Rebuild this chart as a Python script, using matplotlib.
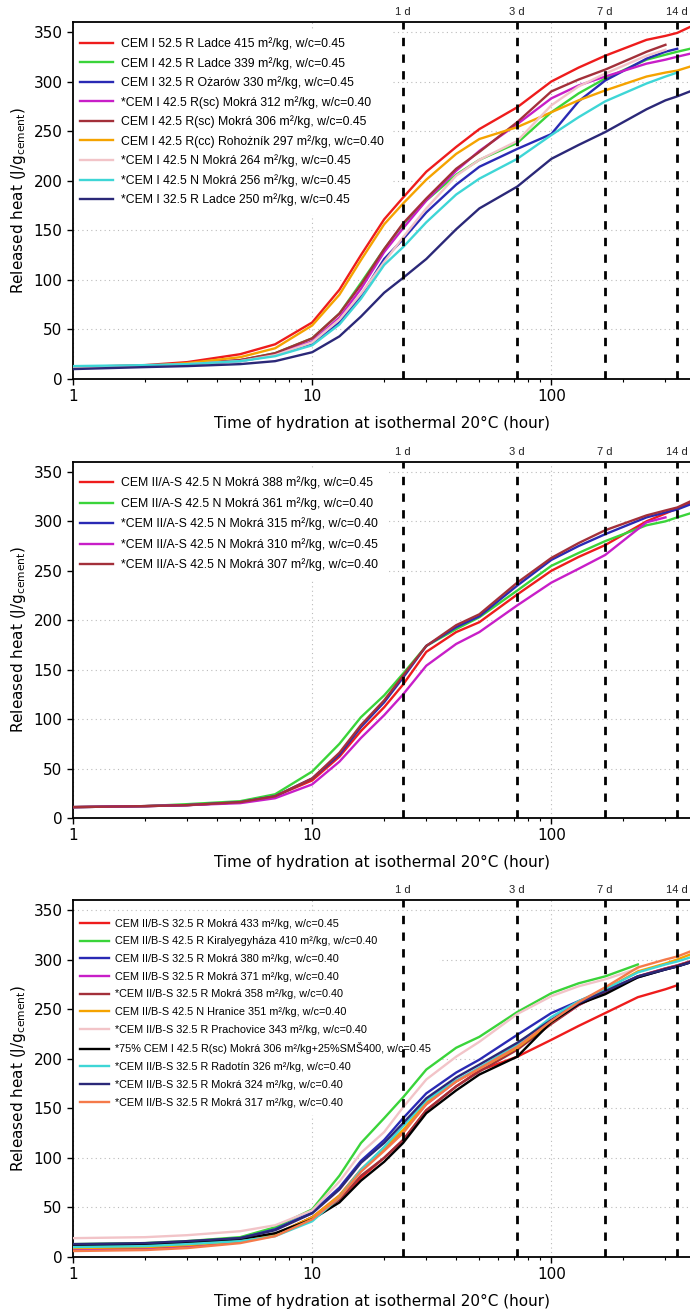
import numpy as np
import matplotlib
matplotlib.use("Agg")
import matplotlib.pyplot as plt
from matplotlib.transforms import blended_transform_factory

nan = np.nan

# ---------------- data ----------------
time_h = [1, 2, 3, 5, 7, 10, 13, 16, 20, 24, 30, 40, 50, 72, 100, 130, 168, 250, 300, 336, 380]
time_h3 = [1, 2, 3, 5, 7, 10, 13, 16, 20, 24, 30, 40, 50, 72, 100, 130, 168, 230, 300, 336, 380]

day_hours = [24, 72, 168, 336]
day_labels = ["1 d", "3 d", "7 d", "14 d"]

# Panel 1 – CEM I
p1_labels = [
    "CEM I 52.5 R Ladce 415 m²/kg, w/c=0.45",
    "CEM I 42.5 R Ladce 339 m²/kg, w/c=0.45",
    "CEM I 32.5 R Ożarów 330 m²/kg, w/c=0.45",
    "*CEM I 42.5 R(sc) Mokrá 312 m²/kg, w/c=0.40",
    "CEM I 42.5 R(sc) Mokrá 306 m²/kg, w/c=0.45",
    "CEM I 42.5 R(cc) Rohożník 297 m²/kg, w/c=0.40",
    "*CEM I 42.5 N Mokrá 264 m²/kg, w/c=0.45",
    "*CEM I 42.5 N Mokrá 256 m²/kg, w/c=0.45",
    "*CEM I 32.5 R Ladce 250 m²/kg, w/c=0.45",
]
p1_colors = ["#ee1c1c", "#3ad43a", "#2a2ab4", "#c81ec8", "#a3303a",
             "#f5a300", "#f2c4c8", "#3ed6d6", "#2b2878"]
p1_red =     [12, 14, 17, 25, 35, 57, 90, 125, 161, 183, 209, 234, 252, 274, 300, 314, 326, 342, 346, 349, 355]
p1_green =   [11, 13, 15, 19, 26, 41, 66, 97, 131, 156, 180, 206, 221, 238, 269, 288, 303, 322, 327, 330, 333]
p1_blue =    [12, 13, 15, 18, 24, 35, 57, 84, 121, 141, 168, 196, 214, 232, 247, 280, 301, 323, 330, 333, nan]
p1_magenta = [11, 13, 15, 19, 25, 38, 62, 91, 128, 152, 180, 210, 230, 257, 283, 296, 305, 318, 322, 325, 328]
p1_brown =   [11, 13, 15, 19, 26, 41, 66, 95, 131, 157, 182, 212, 229, 259, 290, 302, 312, 330, 337, nan, nan]
p1_orange =  [11, 13, 16, 22, 31, 54, 85, 120, 156, 177, 201, 227, 242, 254, 269, 281, 291, 305, 309, 311, 315]
p1_pink =    [11, 13, 15, 18, 24, 37, 60, 86, 118, 143, 172, 205, 221, 240, 276, 295, 308, 326, 332, nan, nan]
p1_cyan =    [13, 14, 15, 18, 23, 34, 55, 81, 115, 133, 158, 186, 202, 222, 246, 264, 280, 298, 305, 309, nan]
p1_navy =    [10, 12, 13, 15, 18, 27, 43, 63, 87, 102, 121, 151, 172, 194, 222, 236, 249, 272, 281, 285, 290]
p1_values = [p1_red, p1_green, p1_blue, p1_magenta, p1_brown,
             p1_orange, p1_pink, p1_cyan, p1_navy]

# Panel 2 – CEM II/A-S
p2_labels = [
    "CEM II/A-S 42.5 N Mokrá 388 m²/kg, w/c=0.45",
    "CEM II/A-S 42.5 N Mokrá 361 m²/kg, w/c=0.40",
    "*CEM II/A-S 42.5 N Mokrá 315 m²/kg, w/c=0.40",
    "*CEM II/A-S 42.5 N Mokrá 310 m²/kg, w/c=0.45",
    "*CEM II/A-S 42.5 N Mokrá 307 m²/kg, w/c=0.40",
]
p2_colors = ["#ee1c1c", "#3ad43a", "#2a2ab4", "#c81ec8", "#a3303a"]
p2_red =     [11, 12, 13, 16, 22, 38, 62, 88, 112, 135, 168, 188, 198, 226, 250, 264, 276, 300, 308, 313, 319]
p2_green =   [11, 12, 14, 17, 24, 47, 75, 102, 124, 146, 174, 191, 203, 230, 255, 268, 280, 296, 300, 304, 308]
p2_blue =    [11, 12, 13, 16, 22, 40, 64, 92, 117, 142, 174, 193, 204, 235, 261, 275, 287, 304, 309, 312, 317]
p2_magenta = [11, 12, 13, 15, 20, 34, 57, 81, 104, 125, 154, 176, 188, 215, 238, 252, 266, 299, 304, nan, nan]
p2_brown =   [11, 12, 13, 16, 22, 40, 66, 94, 119, 144, 174, 195, 206, 238, 263, 278, 291, 306, 311, 314, 320]
p2_values = [p2_red, p2_green, p2_blue, p2_magenta, p2_brown]

# Panel 3 – CEM II/B-S
p3_labels = [
    "CEM II/B-S 32.5 R Mokrá 433 m²/kg, w/c=0.45",
    "CEM II/B-S 42.5 R Kiralyegyháza 410 m²/kg, w/c=0.40",
    "CEM II/B-S 32.5 R Mokrá 380 m²/kg, w/c=0.40",
    "CEM II/B-S 32.5 R Mokrá 371 m²/kg, w/c=0.40",
    "*CEM II/B-S 32.5 R Mokrá 358 m²/kg, w/c=0.40",
    "CEM II/B-S 42.5 N Hranice 351 m²/kg, w/c=0.40",
    "*CEM II/B-S 32.5 R Prachovice 343 m²/kg, w/c=0.40",
    "*75% CEM I 42.5 R(sc) Mokrá 306 m²/kg+25%SMŠ400, w/c=0.45",
    "*CEM II/B-S 32.5 R Radotín 326 m²/kg, w/c=0.40",
    "*CEM II/B-S 32.5 R Mokrá 324 m²/kg, w/c=0.40",
    "*CEM II/B-S 32.5 R Mokrá 317 m²/kg, w/c=0.40",
]
p3_colors = ["#ee1c1c", "#3ad43a", "#2a2ab4", "#c81ec8", "#a3303a", "#f5a300",
             "#f2c4c8", "#000000", "#3ed6d6", "#2b2878", "#f57a4a"]
p3_red =     [8, 9, 11, 15, 22, 40, 58, 80, 100, 118, 148, 172, 188, 202, 219, 233, 246, 262, 270, 274, nan]
p3_green =   [13, 14, 16, 20, 30, 48, 82, 115, 140, 161, 189, 211, 222, 247, 266, 276, 283, 295, nan, nan, nan]
p3_blue =    [12, 13, 15, 19, 28, 45, 70, 97, 118, 140, 165, 186, 199, 224, 246, 258, 269, 282, 290, 293, 297]
p3_magenta = [8, 9, 11, 15, 22, 40, 62, 88, 109, 127, 154, 177, 190, 211, 236, 254, 268, 283, 291, 294, 298]
p3_brown =   [9, 10, 12, 16, 23, 40, 58, 82, 100, 118, 148, 172, 187, 209, 235, 254, 267, 283, 291, 294, 298]
p3_orange =  [9, 10, 12, 16, 23, 40, 62, 88, 110, 128, 156, 177, 190, 211, 237, 256, 270, 288, 296, 300, 305]
p3_pink =    [19, 20, 22, 26, 32, 47, 76, 105, 126, 151, 179, 202, 217, 245, 263, 273, 280, 291, nan, nan, nan]
p3_black =   [11, 12, 14, 18, 24, 38, 55, 77, 96, 115, 145, 168, 184, 202, 237, 255, 265, 282, 290, 293, 297]
p3_cyan =    [10, 11, 13, 16, 21, 36, 60, 88, 111, 132, 158, 178, 191, 214, 242, 258, 270, 287, 295, 298, 302]
p3_navy =    [13, 14, 16, 19, 27, 44, 68, 95, 115, 135, 160, 181, 194, 216, 239, 256, 268, 283, 290, 293, 297]
p3_coral =   [6, 7, 9, 14, 21, 38, 60, 86, 107, 125, 154, 177, 190, 212, 238, 257, 272, 292, 300, 303, 308]
p3_values = [p3_red, p3_green, p3_blue, p3_magenta, p3_brown, p3_orange,
             p3_pink, p3_black, p3_cyan, p3_navy, p3_coral]

# ---------------- figure ----------------
W, H = 690, 1315
fig = plt.figure(figsize=(W / 100, H / 100), dpi=100)

left = 73 / W
width = 1.0 - left
panels = [
    (22, 379, time_h, p1_values, p1_colors, p1_labels, 8.8, 0.55, 0.978),
    (462, 818, time_h, p2_values, p2_colors, p2_labels, 8.8, 0.63, 0.980),
    (900, 1257, time_h3, p3_values, p3_colors, p3_labels, 7.8, 0.71, 0.966),
]

for (ytop, ybot, tt, vals, cols, labs, lfs, lsp, ly) in panels:
    ax = fig.add_axes([left, 1 - ybot / H, width, (ybot - ytop) / H])
    ax.set_xscale("log")
    ax.set_xlim(1, 380)
    ax.set_ylim(0, 360)
    ax.set_yticks(np.arange(0, 351, 50))
    ax.set_xticks([1, 10, 100])
    ax.set_xticklabels(["1", "10", "100"])
    ax.grid(True, which="major", linestyle=(0, (1, 3)), color="#bbbbbb", linewidth=0.8, zorder=1)
    for sp in ["left", "bottom", "top"]:
        ax.spines[sp].set_linewidth(1.3)
    ax.spines["right"].set_visible(False)
    ax.tick_params(axis="both", which="major", labelsize=11, direction="out", length=4, width=1)
    ax.tick_params(axis="x", which="minor", direction="out", length=2.5, width=0.8)

    for y, c, lab in zip(vals, cols, labs):
        ax.plot(tt, y, color=c, lw=1.7, label=lab, zorder=3)

    for d in day_hours:
        ax.axvline(d, color="black", lw=2, ls=(0, (3, 3)), zorder=4)
    tr = blended_transform_factory(ax.transData, ax.transAxes)
    for d, dl in zip(day_hours, day_labels):
        ax.text(d, 1.015, dl, transform=tr, ha="center", va="bottom",
                fontsize=8, family="Liberation Sans", color="#222222")

    ax.set_ylabel("Released heat (J/g$_{\\mathrm{cement}}$)", fontsize=11, labelpad=4)
    ax.set_xlabel("Time of hydration at isothermal 20°C (hour)", fontsize=11, labelpad=8)

    leg = ax.legend(loc="upper left", bbox_to_anchor=(0.0, ly),
                    prop={"family": "Liberation Sans", "size": lfs},
                    handlelength=2.7, handletextpad=0.6, labelspacing=lsp,
                    borderaxespad=0.0, borderpad=0.6, frameon=True, fancybox=False,
                    framealpha=1.0, facecolor="white", edgecolor="white")
    leg.set_zorder(2)
    for h in leg.get_lines():
        h.set_linewidth(1.7)

fig.savefig("out.png", dpi=100)
